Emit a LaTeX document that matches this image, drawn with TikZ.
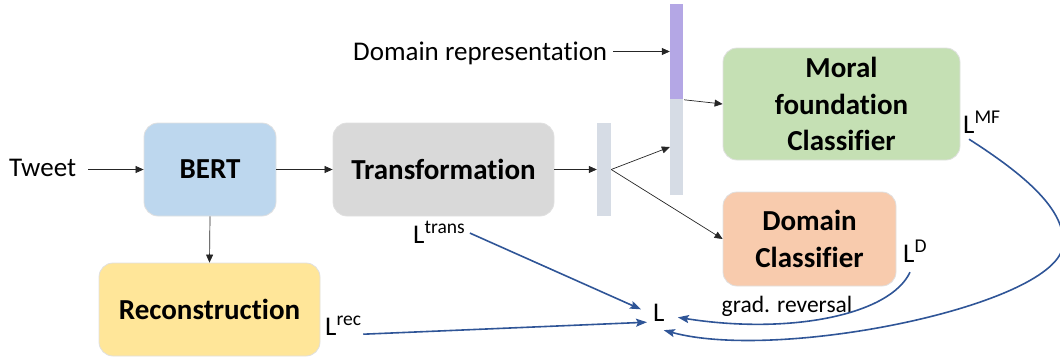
\documentclass[tikz,border=0pt]{standalone}
\usepackage{fontspec}
\setmainfont{Carlito}[Ligatures=NoCommon]
\usetikzlibrary{arrows.meta,calc}
\definecolor{bertc}{HTML}{BDD7EE}
\definecolor{transc}{HTML}{D9D9D9}
\definecolor{mfc}{HTML}{C5E0B4}
\definecolor{dcc}{HTML}{F8CBAD}
\definecolor{recc}{HTML}{FFE699}
\definecolor{barc}{HTML}{D6DCE5}
\definecolor{purc}{HTML}{B4A7E5}
\definecolor{lossblue}{HTML}{2F5597}
\newcommand{\Lwith}[1]{L\raisebox{9.5pt}{\fontsize{19.5}{19.5}\selectfont #1}}
\begin{document}
\begin{tikzpicture}[x=1pt,y=-1pt,
  box/.style={rounded corners=14pt, draw=black!12, line width=0.8pt,
    font=\bfseries\fontsize{29}{36.5}\selectfont, align=center, inner sep=0pt},
  barbox/.style={rectangle, inner sep=0pt, draw=none},
  lbl/.style={inner sep=0pt, font=\fontsize{27}{30}\selectfont},
  lossl/.style={inner sep=0pt, font=\fontsize{27}{30}\selectfont},
  arr/.style={-{Triangle[length=8pt,width=7pt]}, line width=0.7pt, draw=black!85},
  blarr/.style={-{Stealth[length=11pt,width=8pt,inset=2pt]}, line width=1.6pt, draw=lossblue}]
\useasboundingbox (0,0) rectangle (1060,362);

% boxes
\node[box, fill=bertc, minimum width=132pt, minimum height=93pt] (bert) at (210,169.5) {BERT};
\node[box, fill=transc, minimum width=221pt, minimum height=93pt] (trans) at (443.5,169.5) {Transformation};
\node[barbox, fill=barc, minimum width=14pt, minimum height=93pt] (bar1) at (604,169.5) {};
\node[barbox, fill=purc, minimum width=13pt, minimum height=95pt] (bar2top) at (676.5,51.5) {};
\node[barbox, fill=barc, minimum width=13pt, minimum height=96pt] (bar2bot) at (676.5,147) {};
\node[box, fill=mfc, minimum width=237pt, minimum height=112pt] (mf) at (841.5,104) {Moral\\foundation\\Classifier};
\node[box, fill=dcc, minimum width=173pt, minimum height=94pt] (dc) at (809.5,239) {Domain\\Classifier};
\node[box, fill=recc, minimum width=221pt, minimum height=93pt] (rec) at (209.5,309.5) {Reconstruction};

% text labels
\node[lbl, anchor=base west] (tweet) at (9,176) {Tweet};
\node[lbl, anchor=base west] (domrep) at (353,60) {Domain representation};
\node[lbl, anchor=base, font=\fontsize{23.5}{26}\selectfont] (grad) at (787,312.5) {grad. reversal};
\node[lossl, anchor=base west] (Lm) at (653,321) {L};
\node[lossl, anchor=base west] (Ltrans) at (413,243) {\Lwith{trans}};
\node[lossl, anchor=base west] (Lrec) at (325,335) {\Lwith{rec}};
\node[lossl, anchor=base west] (LD) at (903,262) {\Lwith{D}};
\node[lossl, anchor=base west] (LMF) at (963,133) {\Lwith{MF}};

% black arrows
\draw[arr, shorten <=12pt] (tweet.east |- bert.west) -- (bert.west);
\draw[arr] (bert.east) -- (trans.west);
\draw[arr] (trans.east) -- (bar1.west);
\draw[arr] (bert.south) -- (rec.north);
\draw[arr, shorten <=6pt] (domrep.east |- bar2top.west) -- (bar2top.west);
\draw[arr] (bar1.east) -- (bar2bot.west);
\draw[arr] (bar1.east) -- (dc.west);
\draw[arr] ($(bar2bot.north east)+(1,1)$) -- (mf.west);

% loss arrows
\draw[blarr] ($(Ltrans.east)+(5,1)$) -- ($(Lm.west)+(-12,-3)$);
\draw[blarr] ($(Lrec.south east)+(2,-1)$) -- ($(Lm.south west)+(-6,1)$);
\draw[blarr] ($(LD.south west)+(7,10)$) .. controls (890,315) and (790,335) .. ($(Lm.east)+(13,5)$);
\draw[blarr] ($(LMF.south west)+(6,6)$) .. controls (1025,175) and (1066,210) .. (1063,245)
  .. controls (1058,305) and (780,362) .. ($(Lm.south east)+(-1,9)$);
\end{tikzpicture}
\end{document}
